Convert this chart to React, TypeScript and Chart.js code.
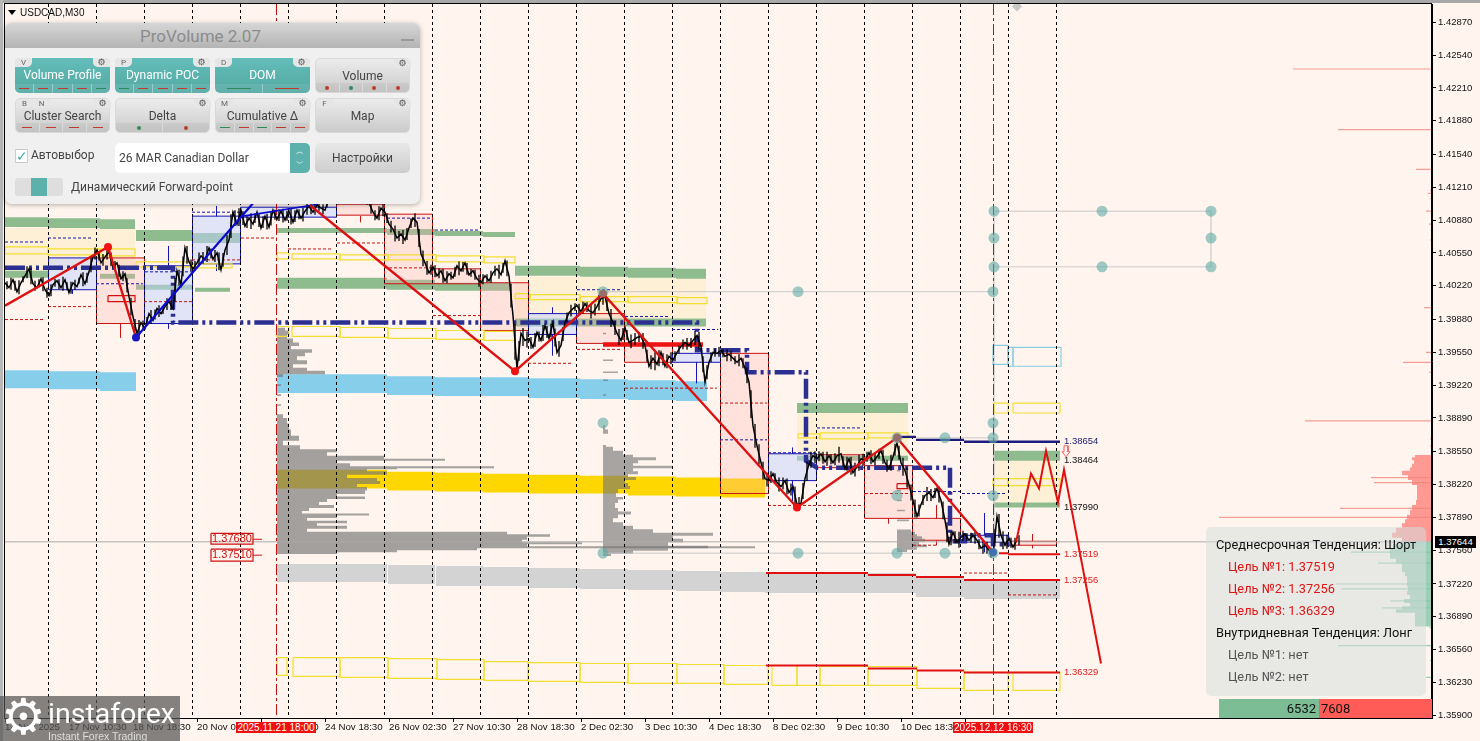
import React, { useEffect, useRef } from "react";
import { Chart, registerables } from "chart.js";
Chart.register(...registerables);

type Box = [number, number, number, number];
type Seg = [number, number, number];

// ---- axes ----
const yTickLabels = ["1.42870","1.42540","1.42210","1.41880","1.41540","1.41210","1.40880","1.40550","1.40220","1.39880","1.39550","1.39220","1.38890","1.38550","1.38220","1.37890","1.37560","1.37220","1.36890","1.36560","1.36230","1.35900"];
const xTickBars = [0,64,128,192,256,320,384,448,512,576,640,704,768,832,896,960];
const xTickLabels = ["14 Nov 2025","17 Nov 10:30","18 Nov 18:30","20 Nov 02:30","21 Nov 10:30","24 Nov 18:30","26 Nov 02:30","27 Nov 10:30","28 Nov 18:30","2 Dec 02:30","3 Dec 10:30","4 Dec 18:30","8 Dec 02:30","9 Dec 10:30","10 Dec 18:30","12 Dec 02:30"];
const dayLineBars = [43.5,91.5,139.5,187.5,235.5,283.5,331.5,379.5,427.5,475.5,523.5,571.5,619.5,667.5,715.5,763.5,811.5,859.5,907.5,955.5,1003.5,1051.5];
const eventBars = [271.5,988.5];
const currentPrice = 1.37644;

// ---- price, one value every 4 bars ----
const priceStep = 4;
const priceValues = [1.4025,1.402,1.4028,1.4016,1.4025,1.4032,1.4039,1.4024,1.402,1.4029,1.4018,1.4012,1.4023,1.4027,1.402,1.4028,1.4015,1.4025,1.4021,1.4033,1.4024,1.4036,1.4051,1.4058,1.4045,1.4051,1.4056,1.4041,1.4045,1.4029,1.4034,1.4011,1.3991,1.3974,1.3985,1.3979,1.3994,1.3987,1.3999,1.3994,1.4001,1.4006,1.3999,1.4037,1.4023,1.406,1.4046,1.4039,1.4045,1.4052,1.4048,1.406,1.4049,1.4055,1.4038,1.4058,1.4068,1.4096,1.4084,1.4098,1.4082,1.409,1.4084,1.4096,1.408,1.4092,1.4081,1.4098,1.4089,1.4097,1.4088,1.4097,1.4086,1.4098,1.409,1.4097,1.4102,1.4096,1.4103,1.41,1.4098,1.411,1.4116,1.4112,1.4118,1.4111,1.4115,1.412,1.4113,1.4117,1.4112,1.4105,1.4096,1.409,1.41,1.4096,1.4084,1.4079,1.407,1.4074,1.4068,1.408,1.409,1.4086,1.4054,1.4045,1.4035,1.4041,1.4032,1.4037,1.4027,1.4034,1.403,1.4042,1.4037,1.4045,1.4033,1.4037,1.4029,1.4025,1.4032,1.4027,1.4035,1.4039,1.4033,1.4047,1.4032,1.3992,1.3939,1.3974,1.3967,1.3969,1.396,1.3975,1.3967,1.3982,1.3969,1.3985,1.3955,1.3962,1.3985,1.3995,1.3999,1.4002,1.3996,1.4004,1.3997,1.3995,1.4001,1.4009,1.4011,1.3994,1.3985,1.3974,1.3967,1.398,1.3965,1.3967,1.397,1.3971,1.3962,1.3941,1.3949,1.3943,1.3955,1.3941,1.3951,1.3947,1.3955,1.3961,1.3965,1.3962,1.3967,1.3972,1.3961,1.3925,1.3945,1.3955,1.3954,1.3957,1.3951,1.3953,1.3949,1.3945,1.3949,1.3939,1.3925,1.3881,1.3861,1.3844,1.3828,1.3826,1.3833,1.3824,1.382,1.3826,1.3814,1.382,1.3802,1.3803,1.3828,1.3843,1.3851,1.3848,1.3853,1.3845,1.3851,1.3844,1.3851,1.3853,1.3838,1.3848,1.3834,1.384,1.3848,1.3846,1.3854,1.3845,1.385,1.3856,1.3844,1.3838,1.385,1.3864,1.3844,1.3836,1.3822,1.3806,1.379,1.3802,1.3811,1.3814,1.3809,1.3818,1.3806,1.3786,1.3762,1.3774,1.3764,1.3769,1.3772,1.3766,1.3771,1.3766,1.3758,1.3761,1.3756,1.3751,1.379,1.3771,1.3761,1.3768,1.3759,1.3766];
// half height of the bar range around each step, in 0.0001 price units
const priceRanges = [4,6,5,7,3,6,8,5,4,7,5,6,4,5,7,4,6,5,3,7,5,8,6,4,6,5,7,4,6,5,7,9,6,8,5,4,7,5,6,4,6,5,12,8,10,9,6,5,7,6,8,5,6,9,7,10,12,8,9,7,6,8,5,7,6,8,7,5,6,7,5,8,6,5,7,6,5,6,4,5,3,4,5,3,4,5,3,4,4,3,5,6,5,7,6,5,6,8,5,7,6,5,7,9,8,7,5,6,5,7,6,4,5,7,5,6,4,5,6,5,4,6,5,7,5,8,12,18,10,9,8,6,7,5,8,6,7,9,8,7,5,6,4,5,6,5,7,6,8,7,6,9,7,8,6,5,7,6,5,8,6,7,9,8,6,7,6,5,4,5,6,5,7,9,8,7,5,4,5,4,6,5,4,6,5,8,14,12,10,9,7,6,5,7,6,8,6,9,7,8,10,8,6,5,6,7,5,6,8,5,7,9,7,8,6,5,7,6,5,7,6,8,6,7,9,10,8,9,6,5,7,6,5,8,9,10,7,6,8,5,4,5,6,5,7,6,5,7,12,9,7,5,6,5];

// ---- zones: start bar, end bar, top price, bottom price ----
const paleZones: Box[] = [[0,130,1.408,1.4037],[510,701,1.4031,1.3989],[792,903,1.3894,1.3851],[988,1055,1.3846,1.3804]];
const greenBands: Box[] = [[0,43,1.4091,1.4081],[43,95,1.409,1.408],[95,130,1.4089,1.4079],[131,187,1.4078,1.4067],[187,235,1.4075,1.4065],[272,382,1.408,1.4075],[382,430,1.4079,1.4073],[430,478,1.4077,1.4072],[478,510,1.4076,1.4071],[0,43,1.4037,1.403],[95,130,1.4034,1.4029],[131,187,1.4023,1.4018],[190,225,1.402,1.4016],[272,382,1.403,1.4019],[382,430,1.4028,1.4018],[430,478,1.4025,1.4017],[478,505,1.4025,1.4017],[510,575,1.4042,1.4032],[575,623,1.4041,1.4031],[623,671,1.404,1.403],[671,701,1.4039,1.4029],[510,701,1.3989,1.3981],[792,903,1.3904,1.3894],[792,903,1.3851,1.3846],[988,1055,1.3856,1.3846],[988,1055,1.3804,1.3799]];
const skyBands: Box[] = [[0,43,1.3937,1.3919],[43,95,1.3936,1.3918],[95,131,1.3935,1.3916],[272,382,1.3933,1.3914],[382,430,1.3931,1.3912],[430,478,1.393,1.3911],[478,523,1.393,1.3911],[523,575,1.3929,1.3909],[575,623,1.3928,1.3908],[623,671,1.3927,1.3907],[671,702,1.3926,1.3906]];
const goldBands: Box[] = [[272,382,1.3837,1.3818],[382,430,1.3835,1.3816],[430,478,1.3834,1.3815],[478,523,1.3833,1.3814],[523,575,1.3832,1.3813],[575,623,1.3831,1.3813],[623,671,1.383,1.3811],[671,715,1.3829,1.381],[715,760,1.3828,1.3809]];
const greyBands: Box[] = [[272,382,1.3742,1.3724],[383,430,1.3741,1.3722],[431,478,1.374,1.372],[478,523,1.3739,1.372],[523,575,1.3738,1.3718],[575,623,1.3737,1.3717],[623,671,1.3736,1.3716],[671,715,1.3735,1.3715],[715,760,1.3734,1.3714],[760,911,1.3733,1.3713],[911,959,1.3729,1.3709],[959,1003,1.3727,1.3707],[1003,1055,1.3726,1.3707]];
const yellowBoxes: Box[] = [[0,43,1.4061,1.4054],[43,95,1.4059,1.4053],[95,130,1.4059,1.4052],[131,187,1.4046,1.4041],[187,227,1.4044,1.404],[272,284,1.4055,1.4049],[287,335,1.4054,1.4049],[335,383,1.4053,1.4048],[383,431,1.4053,1.4048],[431,479,1.4052,1.4046],[479,510,1.4051,1.4045],[510,525,1.4014,1.4009],[525,575,1.4013,1.4008],[575,623,1.4011,1.4006],[623,672,1.4011,1.4005],[672,702,1.401,1.4004],[272,284,1.3981,1.3971],[287,335,1.3981,1.3971],[335,383,1.398,1.397],[383,431,1.3979,1.3969],[431,479,1.3977,1.3968],[479,510,1.3976,1.3967],[793,815,1.3873,1.3869],[815,863,1.3874,1.3868],[863,903,1.3874,1.3869],[989,1003,1.3904,1.3894],[1008,1055,1.3904,1.3894],[988,1003,1.3828,1.3821],[1003,1055,1.3828,1.3821],[272,282,1.3648,1.363],[288,335,1.3648,1.3629],[335,383,1.3648,1.3628],[383,432,1.3647,1.3627],[432,479,1.3646,1.3626],[479,523,1.3644,1.3625],[523,575,1.3643,1.3624],[575,623,1.3642,1.3623],[623,672,1.3642,1.3622],[672,719,1.3641,1.3622],[719,763,1.364,1.3621],[767,792,1.364,1.362],[792,815,1.364,1.362],[815,863,1.3639,1.362],[863,912,1.3639,1.362],[912,959,1.3635,1.3617],[959,1003,1.3633,1.3615],[1008,1055,1.3633,1.3615]];
const skyOutlines: Box[] = [[988,1003,1.3962,1.3943],[1003,1008,1.396,1.3941],[1008,1056,1.396,1.3941]];

// ---- daily boxes ----
const redDays: Box[] = [[91.5,139.5,1.405,1.3984],[331.5,379.5,1.4104,1.4093],[379.5,427.5,1.4094,1.4024],[427.5,475.5,1.4039,1.4024],[475.5,523.5,1.4025,1.3977],[571.5,619.5,1.3994,1.3964],[619.5,667.5,1.3964,1.3945],[715.5,763.5,1.3954,1.3813],[811.5,859.5,1.3852,1.3839],[859.5,907.5,1.3841,1.3788],[907.5,955.5,1.3788,1.3766],[1003.5,1051.5,1.3765,1.3761]];
const blueDays: Box[] = [[43.5,91.5,1.405,1.4018],[139.5,187.5,1.4042,1.3984],[187.5,235.5,1.4092,1.4044],[235.5,331.5,1.4101,1.4091],[523.5,571.5,1.3994,1.3973],[667.5,715.5,1.3954,1.3945],[763.5,811.5,1.3853,1.3826],[955.5,1003.5,1.3771,1.3764]];
const redSmallBoxes: Box[] = [[103,130,1.4012,1.4006],[892,903,1.3823,1.3818]];
const levelBoxes: Box[] = [[206,248,1.3773,1.3762],[206,248,1.3757,1.3745]];
const blueWicks: Seg[] = [[163.5,1.4062,1.4042],[163.5,1.3984,1.3979],[211.5,1.4102,1.4092],[211.5,1.4044,1.4037],[67.5,1.4018,1.4014],[547.5,1.4,1.3994],[547.5,1.3973,1.3952],[691.5,1.3945,1.3924],[787.5,1.3859,1.3853],[787.5,1.3826,1.3806],[979.5,1.3793,1.3771],[979.5,1.3764,1.3754]];
const redWicks: Seg[] = [[115.5,1.3984,1.397],[355.5,1.4092,1.4086],[883.5,1.3788,1.3783],[931.5,1.3801,1.3788],[931.5,1.3766,1.3761],[1027.5,1.3772,1.3765],[1027.5,1.3761,1.3758]];

// ---- flat segments: start bar, end bar, price ----
const blueDashes: Seg[] = [[0,40,1.4066],[43,88,1.407],[91,138,1.4024],[140,187,1.4036],[187,235,1.4096],[382,425,1.409],[430,475,1.4078],[572,615,1.4018],[620,663,1.3991],[667,713,1.3978],[715,762,1.3867],[763,810,1.3854],[812,857,1.3879],[908,955,1.3815],[957,1002,1.3813]];
const redDashes: Seg[] = [[0,40,1.3988],[43,88,1.4001],[139,187,1.4006],[187,235,1.4048],[236,272,1.407],[283,328,1.4059],[332,378,1.4065],[379,427,1.404],[428,475,1.3992],[523,568,1.3944],[572,617,1.3958],[620,712,1.3919],[715,762,1.3904],[763,857,1.3801],[860,905,1.3813],[908,932,1.3761],[959,1002,1.3733],[1003,1051,1.3711]];
const navyLevels: Seg[] = [[892,911,1.387],[911,959,1.3867],[959,1055,1.3865]];
const redLevels: Seg[] = [[761,863,1.3733],[863,911,1.3731],[911,959,1.3729],[959,1055,1.3726],[761,863,1.364],[863,912,1.3637],[912,959,1.3635],[959,1055,1.3633],[994,1003,1.3753],[1003,1055,1.3752]];
const pocThick: Seg[] = [[598,698,1.3963]];
const levelTicks: Seg[] = [[248,257,1.3767],[248,257,1.3751]];

// ---- paths: bar, price ----
const pocPath: [number, number][] = [[0,1.404],[168,1.404],[168,1.3985],[692,1.3985],[692,1.3957],[742,1.3957],[742,1.3935],[801,1.3935],[801,1.3846],[812,1.3839],[945,1.3839],[945,1.3765],[960,1.3765],[960,1.3771],[988,1.3771],[988,1.3762],[1005,1.3762]];
const redTrendA: [number, number][] = [[0,1.4002],[103,1.4061],[131,1.397]];
const redTrendB: [number, number][] = [[305,1.4103],[510,1.3936],[598,1.4014],[792,1.3799],[892,1.3869],[988,1.3754]];
const forecast: [number, number][] = [[1011,1.3764],[1026,1.3833],[1034,1.3818],[1041,1.3856],[1053,1.3804],[1059,1.3837],[1096,1.3642]];
const blueTrendA: [number, number][] = [[131,1.397],[248,1.4105]];
const blueTrendB: [number, number][] = [[238,1.4092],[313,1.4104]];
const signalArrow: [number, number][] = [[1059,1.3861],[1063,1.3861],[1063,1.3855],[1065,1.3855],[1061,1.385],[1057,1.3855],[1059,1.3855],[1059,1.3861]];
const pivotDots: [number, number][] = [[103,1.4061],[510,1.3936],[598,1.4014],[792,1.3799],[892,1.3869]];
const lowDots: [number, number][] = [[131,1.397],[988,1.3754]];
const gridDots: [number, number][] = [[989,1.4097],[1097,1.4097],[1206,1.4097],[989,1.407],[1206,1.407],[989,1.4041],[1097,1.4041],[1206,1.4041],[988,1.4016],[793,1.4016],[598,1.4016],[598,1.3884],[988,1.3884],[892,1.3869],[940,1.3869],[988,1.3869],[892,1.3811],[988,1.3811],[598,1.3753],[793,1.3753],[892,1.3753],[940,1.3753],[988,1.3753]];
const gridRows: Seg[] = [[989,1206,1.4097],[989,1206,1.4041],[598,988,1.4016],[598,988,1.3753],[892,988,1.3869]];
const gridCols: Seg[] = [[1206,1.4097,1.4041],[989,1.4097,1.3753]];
const marker: [number, number][] = [[1012,1.4303]];

// ---- volume profiles: price, size in bars ----
const profileABase = 272;
const profileAPrices = [1.3979,1.3975,1.3971,1.3967,1.3963,1.396,1.3956,1.3953,1.3949,1.3945,1.3941,1.3938,1.3935,1.3931,1.3922,1.3912,1.3902,1.3892,1.3886,1.3881,1.3874,1.3868,1.3864,1.3859,1.3856,1.3853,1.3849,1.3847,1.3845,1.3842,1.3839,1.3838,1.3837,1.3834,1.383,1.3827,1.3824,1.3821,1.3818,1.3814,1.3811,1.3809,1.3806,1.3803,1.38,1.3797,1.3794,1.3792,1.379,1.3787,1.3784,1.3782,1.3779,1.3776,1.3773,1.3771,1.3768,1.3765,1.3763,1.3761,1.3759,1.3757,1.3755,1.3753];
const profileASizes = [8,12,10,16,22,14,35,28,20,30,16,30,48,6,4,4,4,6,10,12,14,22,6,23,60,50,107,168,60,73,217,120,90,110,70,100,103,80,90,88,60,88,50,42,57,32,25,92,60,30,70,40,70,30,230,273,250,245,305,250,478,200,120,60];
const profileBBase = 598;
const profileBPrices = [1.3974,1.3962,1.3947,1.3935,1.3927,1.3912,1.3881,1.3874,1.3861,1.3859,1.3853,1.3851,1.3848,1.3845,1.3842,1.384,1.3837,1.3834,1.3831,1.3828,1.3825,1.3822,1.3819,1.3816,1.3811,1.3808,1.3806,1.3801,1.3796,1.3794,1.379,1.3786,1.3782,1.3779,1.3775,1.3772,1.3769,1.3766,1.3762,1.3759,1.3757,1.3754,1.3751];
const profileBSizes = [3,6,10,15,5,3,2,5,3,10,20,30,53,35,30,69,30,35,25,33,22,25,27,15,13,20,15,12,15,28,15,10,20,30,50,110,70,80,65,105,65,30,8];
const profileCBase = 892;
const profileCPrices = [1.3851,1.3836,1.3816,1.3806,1.3796,1.3786,1.3776,1.3773,1.3771,1.3769,1.3766,1.3763,1.376,1.3758,1.3755];
const profileCSizes = [2,3,4,5,8,12,14,18,20,25,28,22,30,20,10];

// ---- order book at the right edge ----
const bookBase = 1427;
const askPrices = [1.3851,1.3848,1.3845,1.3841,1.3838,1.3834,1.3829,1.3824,1.3819,1.3814,1.3809,1.3804,1.3799,1.3794,1.3789,1.3785,1.3781,1.3776,1.3771,1.3766];
const askSizes = [17,20,18,20,22,30,24,20,15,15,15,16,20,22,25,27,30,36,40,30];
const askSpikePrices = [1.424,1.4179,1.4139,1.4118,1.4115,1.411,1.4097,1.4084,1.4068,1.4,1.3955,1.3945,1.3935,1.3886,1.3868,1.3861,1.3829,1.3824,1.3798,1.3789];
const askSpikeSizes = [139,94,16,2,4,2,6,3,2,8,6,29,3,127,2,2,61,58,92,213];
const bidPrices = [1.3764,1.376,1.3755,1.375,1.3745,1.374,1.3736,1.3732,1.3728,1.3722,1.3717,1.3713,1.3709,1.3705,1.3701,1.3698,1.3695,1.3691,1.3687,1.3683,1.368];
const bidSizes = [30,39,42,42,36,30,30,27,25,25,24,25,22,28,22,30,36,17,17,17,17];
const bidSpikePrices = [1.3754,1.3743,1.3722,1.3717,1.3705,1.3698,1.3678,1.366,1.3645,1.3628];
const bidSpikeSizes = [81,54,96,91,42,50,3,94,2,6];

// ---- level labels ----
const levelLabels: [number, number, string, string][] = [[1059,1.38654,"1.38654","#1a1a6e"],[1059,1.38464,"1.38464","#111"],[1059,1.3799,"1.37990","#111"],[1059,1.37519,"1.37519","#e02020"],[1059,1.37256,"1.37256","#e02020"],[1059,1.36329,"1.36329","#e02020"]];
const boxLabels: [number, number, string, string][] = [[227,1.37675,"1.37680","#d01010"],[227,1.3751,"1.37510","#d01010"]];

// ---- panels ----
const buttons = [
  { label: "Volume Profile", on: true, tabs: ["V"], gear: true, kind: "dash", marks: "rrrrg" },
  { label: "Dynamic POC", on: true, tabs: ["P"], gear: true, kind: "dash", marks: "grrrr" },
  { label: "DOM", on: true, tabs: ["D"], gear: true, kind: "dash", marks: "gr" },
  { label: "Volume", on: false, tabs: [], gear: true, kind: "dot", marks: "rgrr" },
  { label: "Cluster Search", on: false, tabs: ["B", "N"], gear: true, kind: "dash", marks: "rrrr" },
  { label: "Delta", on: false, tabs: [], gear: true, kind: "dot", marks: "gr" },
  { label: "Cumulative Δ", on: false, tabs: ["M"], gear: true, kind: "dash", marks: "grgrr" },
  { label: "Map", on: false, tabs: ["F"], gear: true, kind: "dash", marks: "" },
];
const trendLines: [string, string, number][] = [
  ["Среднесрочная Тенденция: Шорт", "#111", 0],
  ["Цель №1: 1.37519", "#e01515", 12],
  ["Цель №2: 1.37256", "#e01515", 12],
  ["Цель №3: 1.36329", "#e01515", 12],
  ["Внутридневная Тенденция: Лонг", "#111", 0],
  ["Цель №1: нет", "#555", 12],
  ["Цель №2: нет", "#555", 12],
];
const bookTotals = { bid: "6532", ask: "7608" };

const pts = (a: [number, number][]) => a.map(([x, y]) => ({ x, y }));

function buildDatasets() {
  const ds: any[] = [];
  const rect = (r: Box, fill: string | null, stroke: string | null, w = 1) =>
    ds.push({
      data: [{ x: r[0], y: r[2] }, { x: r[1], y: r[2] }, { x: r[1], y: r[3] }, { x: r[0], y: r[3] }, { x: r[0], y: r[2] }],
      borderColor: stroke || "rgba(0,0,0,0)", borderWidth: stroke ? w : 0,
      backgroundColor: fill || "rgba(0,0,0,0)", fill: fill ? "shape" : false,
    });
  const poly = (data: any[], color: string, w: number, dash?: number[], extra?: any) =>
    ds.push({ data, borderColor: color, borderWidth: w, borderDash: dash || [], fill: false, ...extra });
  const hSegs = (a: Seg[]) => a.flatMap(([x0, x1, y]) => [{ x: x0, y }, { x: x1, y }, { x: x1, y: NaN }]);
  const vSegs = (a: Seg[]) => a.flatMap(([x, y0, y1]) => [{ x, y: y0 }, { x, y: y1 }, { x, y: NaN }]);
  const profile = (base: number, prices: number[], sizes: number[], dir: number, fill: string) => {
    const data: any[] = [{ x: base, y: prices[0] + 0.00008 }];
    prices.forEach((p, i) => {
      const gapUp = i > 0 ? prices[i - 1] - p : 0.0014;
      const gapDn = i < prices.length - 1 ? p - prices[i + 1] : 0.0014;
      const up = gapUp < 0.0007 ? gapUp / 2 : 0.00008;
      const dn = gapDn < 0.0007 ? gapDn / 2 : 0.00008;
      const x = base + dir * sizes[i];
      if (gapUp >= 0.0007) data.push({ x: base, y: p + up });
      data.push({ x, y: p + up }, { x, y: p - dn });
      if (gapDn >= 0.0007) data.push({ x: base, y: p - dn });
    });
    data.push({ x: base, y: prices[prices.length - 1] - 0.00008 }, { x: base, y: prices[0] + 0.00008 });
    ds.push({ data, borderWidth: 0, borderColor: "rgba(0,0,0,0)", backgroundColor: fill, fill: "shape" });
  };
  const spikes = (prices: number[], sizes: number[], color: string) =>
    poly(prices.flatMap((p, i) => [{ x: bookBase, y: p }, { x: bookBase - sizes[i], y: p }, { x: bookBase, y: NaN }]), color, 1.2);

  paleZones.forEach((r) => rect(r, "rgb(253,240,214)", null));
  greenBands.forEach((r) => rect(r, "rgb(143,188,143)", null));
  skyBands.forEach((r) => rect(r, "rgb(135,206,235)", null));
  goldBands.forEach((r) => rect(r, "rgb(255,215,0)", null));
  greyBands.forEach((r) => rect(r, "rgb(211,211,211)", null));
  redDays.forEach((r) => rect(r, "rgba(255,175,175,0.28)", "#c81414"));
  blueDays.forEach((r) => rect(r, "rgba(195,210,255,0.5)", "#1515b5"));
  poly(vSegs(blueWicks), "#1515b5", 1);
  poly(vSegs(redWicks), "#c81414", 1);
  profile(profileABase, profileAPrices, profileASizes, 1, "rgba(115,115,115,0.66)");
  profile(profileBBase, profileBPrices, profileBSizes, 1, "rgba(115,115,115,0.62)");
  profile(profileCBase, profileCPrices, profileCSizes, 1, "rgba(115,115,115,0.62)");
  profile(bookBase, askPrices, askSizes, -1, "rgba(255,130,125,0.8)");
  profile(bookBase, bidPrices, bidSizes, -1, "rgba(140,200,170,0.85)");
  spikes(askSpikePrices, askSpikeSizes, "rgba(240,130,120,0.75)");
  spikes(bidSpikePrices, bidSpikeSizes, "rgba(130,195,165,0.8)");
  poly([{ x: 0, y: currentPrice }, { x: 1427, y: currentPrice }], "rgba(170,170,170,1)", 1);
  poly(hSegs(gridRows), "rgba(195,195,195,0.9)", 1);
  poly(vSegs(gridCols), "rgba(200,200,200,0.8)", 1.5);
  yellowBoxes.forEach((r) => rect(r, null, "rgb(245,222,50)", 1.2));
  skyOutlines.forEach((r) => rect(r, null, "rgb(135,206,225)", 1.2));
  poly(dayLineBars.flatMap((x) => [{ x, y: 1.43054 }, { x, y: 1.35872 }, { x, y: NaN }]), "#000", 1, [3, 3]);
  poly(eventBars.flatMap((x) => [{ x, y: 1.43054 }, { x, y: 1.35872 }, { x, y: NaN }]), "#c01010", 1, [11, 3, 3, 3]);
  poly(hSegs(blueDashes), "#1515a5", 1, [3, 2]);
  poly(hSegs(redDashes), "#c01414", 1, [3, 2]);
  poly(pts(pocPath), "#2b2f92", 4.5, [20, 4, 3, 4, 3, 4]);
  poly(hSegs(pocThick), "#ee1212", 4.5);
  poly(hSegs(navyLevels), "#1c1c7c", 2.4);
  poly(hSegs(redLevels), "#e21010", 2);
  poly(hSegs(levelTicks), "#d01010", 1);
  redSmallBoxes.forEach((r) => rect(r, null, "#d01010", 1.2));
  levelBoxes.forEach((r) => rect(r, null, "#d01010", 1.2));
  poly(pts(signalArrow), "#ef6060", 1);
  poly(priceValues.map((y, i) => ({ x: i * priceStep, y })), "#000", 1.5);
  poly(priceValues.flatMap((y, i) => {
    const r = priceRanges[i] * 0.0001;
    const x = i * priceStep + priceStep / 2;
    const c = (y + (priceValues[i + 1] ?? y)) / 2;
    return [{ x, y: c + r }, { x, y: c - r }, { x, y: NaN }];
  }), "#000", 1.3);
  poly(pts(blueTrendA), "#0a0ad0", 2.2);
  poly(pts(blueTrendB), "#0a0ad0", 1.6);
  poly(pts(redTrendA), "#dd1111", 2.4);
  poly(pts(redTrendB), "#dd1111", 2.4);
  poly(pts(forecast), "#e01010", 2);
  const dots = (a: [number, number][], color: string, r: number, style = "circle") =>
    ds.push({ data: pts(a), showLine: false, borderWidth: 0, pointStyle: style, pointRadius: r, pointBackgroundColor: color, pointBorderWidth: 0, fill: false });
  dots(pivotDots, "#ee1212", 4);
  dots(lowDots, "#1818c0", 4);
  dots(gridDots, "rgba(95,170,165,0.6)", 5.5);
  dots(marker, "rgb(200,200,200)", 5, "rectRot");
  return ds.reverse();
}

const annotate = {
  id: "annotate",
  afterDatasetsDraw(chart: any) {
    const { ctx, chartArea: a, scales } = chart;
    ctx.save();
    ctx.strokeStyle = "#000";
    ctx.lineWidth = 1;
    ctx.strokeRect(a.left - 0.5, a.top - 0.5, a.right - a.left, a.bottom - a.top + 1);
    ctx.textBaseline = "middle";
    ctx.font = "9.5px 'Liberation Sans'";
    ctx.textAlign = "left";
    levelLabels.forEach(([x, y, t, c]) => {
      ctx.fillStyle = c;
      ctx.fillText(t, scales.x.getPixelForValue(x), scales.y.getPixelForValue(y));
    });
    ctx.font = "11px 'Liberation Sans'";
    ctx.textAlign = "center";
    boxLabels.forEach(([x, y, t, c]) => {
      ctx.fillStyle = c;
      ctx.fillText(t, scales.x.getPixelForValue(x), scales.y.getPixelForValue(y));
    });
    ctx.restore();
  },
};

const ui = "Roboto, 'Liberation Sans', sans-serif";
const abs = (left: number, top: number, width: number, height: number, extra: any = {}): any => ({ position: "absolute", left, top, width, height, boxSizing: "border-box", ...extra });

function Btn({ b, x, y }: any) {
  const col = (m: string) => (m === "g" ? "#2e8b57" : "#c0392b");
  const n = b.marks.length;
  return (
    <div style={abs(x, y, 95, 35, { borderRadius: 5, background: b.on ? "linear-gradient(#63bdb8,#54a9a4)" : "linear-gradient(#ececec,#cbcbcb)", color: b.on ? "#fff" : "#444", fontFamily: ui, fontSize: 12, border: b.on ? "none" : "1px solid #d8d8d8" })}>
      <div style={{ position: "absolute", left: 0, right: 0, top: 9, textAlign: "center", lineHeight: "17px" }}>{b.label}</div>
      {b.tabs.map((t: string, i: number) => (
        <div key={t} style={abs(i * 17, 0, 17, 9, { background: "#e6e6e6", borderRadius: "4px 0 5px 0", fontSize: 8, lineHeight: "10px", textAlign: "center", color: "#666" })}>{t}</div>
      ))}
      <div style={abs(78, 0, 17, 9, { background: "#e6e6e6", borderRadius: "0 4px 0 5px", fontSize: 9, lineHeight: "9px", textAlign: "center", color: "#555", fontFamily: "'DejaVu Sans'" })}>⚙</div>
      {n > 0 && (
        <div style={{ position: "absolute", left: 0, right: 0, bottom: 0, height: 9, display: "flex", background: b.on ? "rgba(255,255,255,0.08)" : "rgba(0,0,0,0.04)", borderRadius: "0 0 5px 5px" }}>
          {b.marks.split("").map((m: string, i: number) => (
            <div key={i} style={{ flex: 1, display: "flex", alignItems: "center", justifyContent: "center", borderLeft: i ? "1px solid rgba(255,255,255,0.35)" : "none" }}>
              {b.kind === "dash"
                ? <div style={{ width: n === 2 ? 24 : 10, height: 1, background: col(m) }} />
                : <div style={{ width: 4, height: 4, borderRadius: 2, background: col(m) }} />}
            </div>
          ))}
        </div>
      )}
    </div>
  );
}

function ProVolume() {
  return (
    <div style={abs(5, 23, 415, 181, { background: "#f0f0f0", borderRadius: 7, boxShadow: "0 1px 5px rgba(0,0,0,0.3)", overflow: "hidden", fontFamily: ui })}>
      <div style={abs(0, 0, 415, 25, { background: "linear-gradient(#d6d6d6,#b4b4b4)", textAlign: "center", color: "#8c8c8c", fontSize: 17, lineHeight: "27px", paddingRight: 24 })}>ProVolume 2.07</div>
      <div style={abs(396, 16, 13, 2, { background: "#999" })} />
      {buttons.map((b, i) => <Btn key={b.label} b={b} x={10 + (i % 4) * 100} y={35 + Math.floor(i / 4) * 40} />)}
      <div style={abs(10, 126, 13, 14, { background: "#fff", border: "1px solid #ccc", color: "#4aa", fontSize: 14, lineHeight: "12px" })}>✓</div>
      <div style={{ position: "absolute", left: 26, top: 125, fontSize: 12, color: "#444" }}>Автовыбор</div>
      <div style={abs(110, 120, 195, 30, { background: "#fff", borderRadius: 5, fontSize: 12, color: "#444", lineHeight: "30px", paddingLeft: 4 })}>26 MAR Canadian Dollar</div>
      <div style={abs(285, 120, 20, 30, { background: "#5db1ac", borderRadius: "0 5px 5px 0", color: "#fff", fontSize: 8, lineHeight: "12px", textAlign: "center", paddingTop: 3, fontFamily: "'DejaVu Sans'" })}>︿<br />﹀</div>
      <div style={abs(310, 120, 95, 30, { background: "linear-gradient(#e8e8e8,#cdcdcd)", borderRadius: 5, fontSize: 12, color: "#444", lineHeight: "30px", textAlign: "center" })}>Настройки</div>
      <div style={abs(10, 155, 48, 18, { background: "#dedede", borderRadius: 3 })} />
      <div style={abs(26, 155, 16, 18, { background: "#5db1ac" })} />
      <div style={{ position: "absolute", left: 66, top: 157, fontSize: 12, color: "#444" }}>Динамический Forward-point</div>
    </div>
  );
}

function Trend() {
  return (
    <div style={abs(1206, 527, 220, 169, { background: "rgba(214,220,222,0.55)", borderRadius: 5, fontFamily: ui, fontSize: 12.8 })}>
      {trendLines.map(([t, c, ind], i) => (
        <div key={i} style={{ position: "absolute", left: 10 + ind, top: 9 + i * 22, color: c, whiteSpace: "nowrap", lineHeight: "18px" }}>{t}</div>
      ))}
    </div>
  );
}

function Logo() {
  return (
    <div style={abs(0, 696, 180, 45, { background: "rgba(85,85,85,0.72)", color: "#fff", overflow: "hidden" })}>
      <div style={{ position: "absolute", left: 1, top: -8, fontSize: 50, lineHeight: "58px", fontFamily: "'DejaVu Sans'" }}>⚙</div>
      <div style={{ position: "absolute", left: 48, top: 0, fontSize: 28.5, lineHeight: "36px", fontFamily: "Roboto" }}>instaforex</div>
      <div style={{ position: "absolute", left: 48, top: 34, fontSize: 10.5, lineHeight: "12px", fontFamily: "'Liberation Sans'", color: "#ddd" }}>Instant Forex Trading</div>
    </div>
  );
}

const noPadding = (s: any) => { s.paddingTop = 0; s.paddingBottom = 0; s.paddingLeft = 0; s.paddingRight = 0; };

export default function App() {
  const ref = useRef<HTMLCanvasElement>(null);
  useEffect(() => {
    document.body.style.margin = "0";
    const chart = new Chart(ref.current as any, {
      type: "line",
      data: { datasets: buildDatasets() },
      options: {
        animation: false,
        responsive: false,
        events: [],
        devicePixelRatio: 1,
        layout: { autoPadding: false, padding: { left: 5, top: 4, right: 0, bottom: 0 } },
        elements: { line: { tension: 0 }, point: { radius: 0 } },
        plugins: { legend: { display: false }, tooltip: { enabled: false }, title: { display: false } },
        scales: {
          x: {
            type: "linear", min: 0, max: 1427,
            grid: { drawOnChartArea: false, drawTicks: true, tickLength: 4, color: "#000" },
            border: { color: "#000" },
            afterBuildTicks: (s: any) => { s.ticks = xTickBars.map((value) => ({ value })); },
            afterFit: (s: any) => { s.height = 23; noPadding(s); },
            ticks: { autoSkip: false, maxRotation: 0, align: "start", padding: 0, color: "#111", font: { family: "'Liberation Sans'", size: 9.7 }, callback: (_: any, i: number) => xTickLabels[i] },
          },
          y: {
            type: "linear", position: "right", min: 1.35872, max: 1.43054,
            grid: { drawOnChartArea: false, drawTicks: true, tickLength: 4, color: "#000" },
            border: { color: "#000" },
            afterBuildTicks: (s: any) => { s.ticks = yTickLabels.map((l) => ({ value: parseFloat(l) })); },
            afterFit: (s: any) => { s.width = 48; noPadding(s); },
            ticks: { autoSkip: false, padding: 2, color: "#111", font: { family: "'Liberation Sans'", size: 9.5 }, callback: (_: any, i: number) => yTickLabels[i] },
          },
        },
      } as any,
      plugins: [annotate],
    } as any);
    return () => chart.destroy();
  }, []);
  return (
    <div style={{ position: "relative", width: 1480, height: 741, overflow: "hidden", background: "#fff5ee" }}>
      <canvas ref={ref} width={1480} height={741} style={{ display: "block", width: 1480, height: 741 }} />
      <div style={abs(0, 0, 1480, 3, { background: "#a8a8a8" })} />
      <div style={abs(0, 0, 3, 741, { background: "#b8b8b8" })} />
      <div style={{ position: "absolute", left: 8, top: 10, width: 0, height: 0, borderLeft: "4px solid transparent", borderRight: "4px solid transparent", borderTop: "5px solid #000" }} />
      <div style={{ position: "absolute", left: 20, top: 6, fontSize: 10, lineHeight: "13px", fontFamily: "'Liberation Sans'", color: "#111" }}>USDCAD,M30</div>
      <ProVolume />
      <div style={abs(236, 722, 80, 11, { background: "#f00f0f", color: "#fff", fontSize: 10, lineHeight: "11px", textAlign: "center", fontFamily: "'Liberation Sans'" })}>2025.11.21 18:00</div>
      <div style={abs(953, 722, 80, 11, { background: "#f00f0f", color: "#fff", fontSize: 10, lineHeight: "11px", textAlign: "center", fontFamily: "'Liberation Sans'" })}>2025.12.12 16:30</div>
      <div style={abs(1435, 536, 41, 12, { background: "#000", color: "#fff", fontSize: 9.5, lineHeight: "12px", textAlign: "center", fontFamily: "'Liberation Sans'" })}>1.37644</div>
      <Trend />
      <div style={abs(1219, 699, 100, 19, { background: "#7dbd96", color: "#111", fontSize: 13, lineHeight: "20px", textAlign: "right", paddingRight: 3, fontFamily: ui })}>{bookTotals.bid}</div>
      <div style={abs(1319, 699, 113, 19, { background: "#ff5c58", color: "#111", fontSize: 13, lineHeight: "20px", paddingLeft: 2, fontFamily: ui })}>{bookTotals.ask}</div>
      <Logo />
    </div>
  );
}
